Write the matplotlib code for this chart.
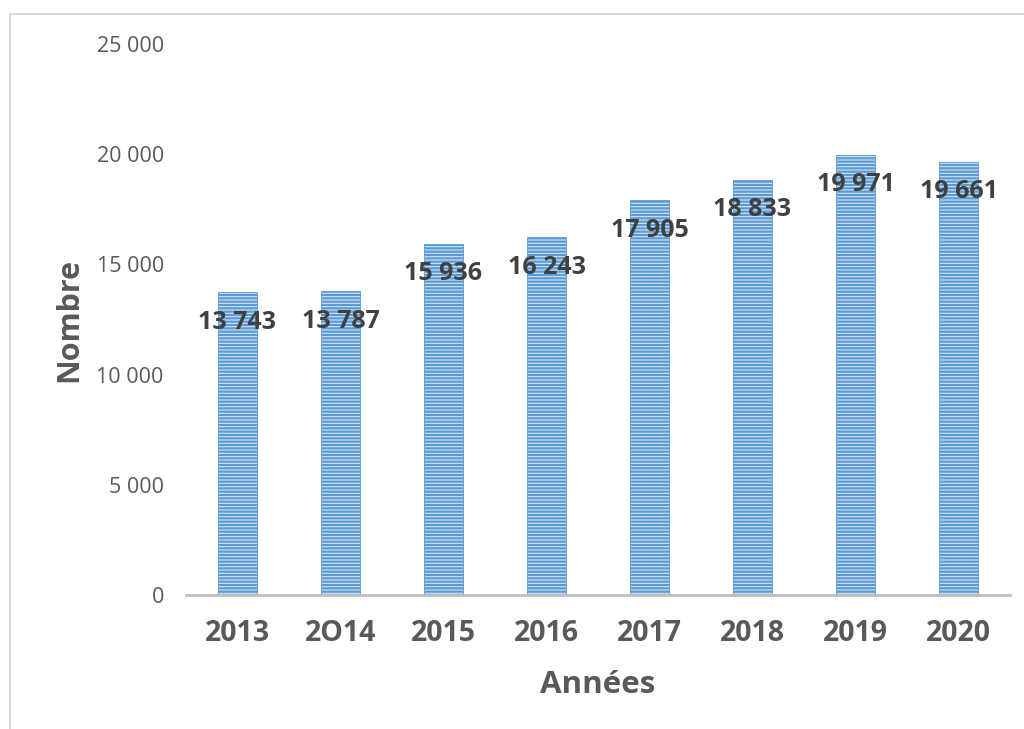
import matplotlib
matplotlib.use("Agg")
import matplotlib.pyplot as plt
from matplotlib.patches import Rectangle
from matplotlib.ticker import FuncFormatter

years = ["2013", "2O14", "2015", "2016", "2017", "2018", "2019", "2020"]
values = [13743, 13787, 15936, 16243, 17905, 18833, 19971, 19661]
y_ticks = [0, 5000, 10000, 15000, 20000, 25000]

plt.rcParams['font.family'] = ['Open Sans', 'DejaVu Sans']
plt.rcParams['hatch.linewidth'] = 1.6
plt.rcParams['hatch.color'] = '#5B9BD5'

fig = plt.figure(figsize=(10.24, 7.29), dpi=100)
fig.patches.append(Rectangle((10/1024, -0.05), 1.0, 1.05 - 14/729, transform=fig.transFigure,
                             fill=False, edgecolor='#D9D9D9', linewidth=1.5, zorder=0))

ax = fig.add_axes([186/1024, 1 - 595/729, (1010-186)/1024, (595-44)/729])
x = list(range(len(years)))
bars = ax.bar(x, values, width=0.37, facecolor='#D2E3F5', edgecolor='#5B9BD5',
              linewidth=0.6, hatch='-----', zorder=2)

for xi, v in zip(x, values):
    ax.annotate(f"{v:,}".replace(",", " "), (xi, v), xytext=(0, -30), textcoords='offset pixels',
                ha='center', va='center', fontsize=18, fontweight='bold', color='#404040', zorder=3)

ax.set_xlim(-0.5, len(years) - 0.5)
ax.set_ylim(0, 25000)
ax.set_yticks(y_ticks)
ax.yaxis.set_major_formatter(FuncFormatter(lambda v, p: f"{int(v):,}".replace(",", " ")))
ax.set_xticks(x)
ax.set_xticklabels(years, fontsize=20.5, fontweight='bold', color='#595959')
ax.tick_params(axis='y', labelsize=15.5, colors='#595959', length=0, pad=16)
ax.tick_params(axis='x', length=0, pad=17)

for s in ['top', 'right', 'left']:
    ax.spines[s].set_visible(False)
ax.spines['bottom'].set_color('#BFBFBF')
ax.spines['bottom'].set_linewidth(2)

ax.set_xlabel("Années", fontsize=22.5, fontweight='bold', color='#595959', labelpad=16)
ax.set_ylabel("Nombre", fontsize=22, fontweight='bold', color='#595959', labelpad=9)

fig.savefig("out.png", dpi=100)
